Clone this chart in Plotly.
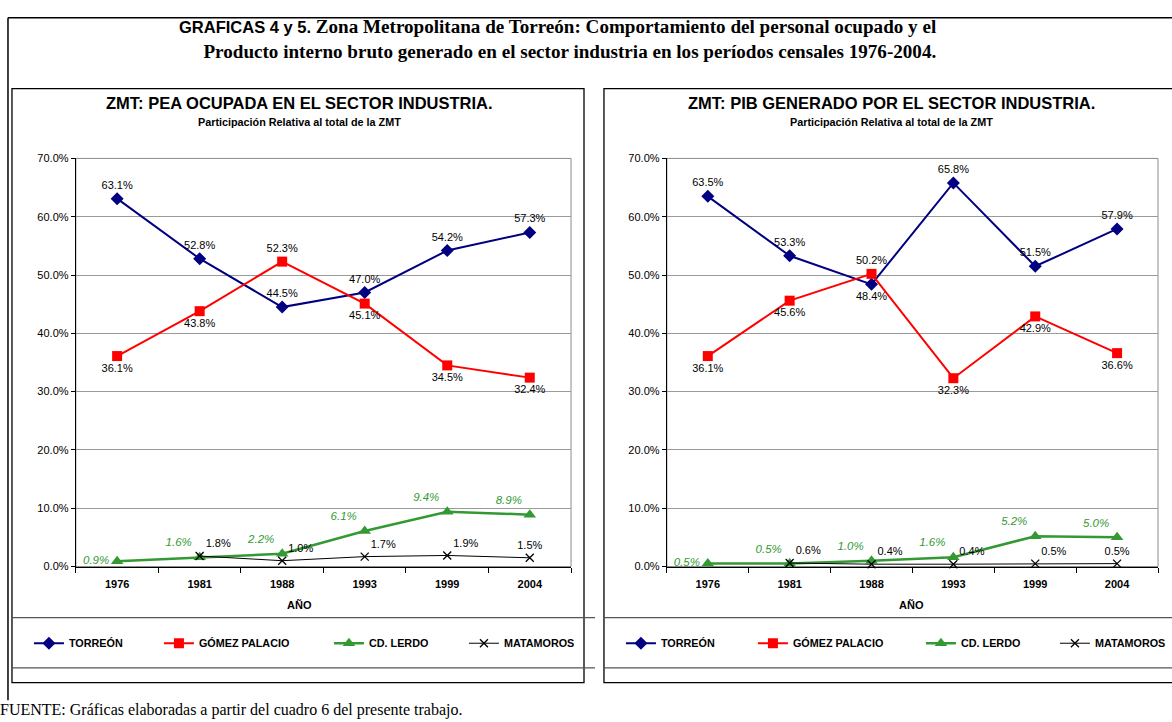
import plotly.graph_objects as go

years = ["1976", "1981", "1988", "1993", "1999", "2004"]

# Gráfica 4: PEA ocupada en el sector industria (% del total ZMT)
pea_torreon = [63.1, 52.8, 44.5, 47.0, 54.2, 57.3]
pea_gomez = [36.1, 43.8, 52.3, 45.1, 34.5, 32.4]
pea_lerdo = [0.9, 1.6, 2.2, 6.1, 9.4, 8.9]
pea_matamoros = [None, 1.8, 1.0, 1.7, 1.9, 1.5]

# Gráfica 5: PIB generado por el sector industria (% del total ZMT)
pib_torreon = [63.5, 53.3, 48.4, 65.8, 51.5, 57.9]
pib_gomez = [36.1, 45.6, 50.2, 32.3, 42.9, 36.6]
pib_lerdo = [0.5, 0.5, 1.0, 1.6, 5.2, 5.0]
pib_matamoros = [None, 0.6, 0.4, 0.4, 0.5, 0.5]

series_names = ["TORREÓN", "GÓMEZ PALACIO", "CD. LERDO", "MATAMOROS"]
y_ticks = [0, 10, 20, 30, 40, 50, 60, 70]

W, H = 1172, 722
def px(x):
    return x / W
def py(y):
    return 1 - y / H

NAVY = "#000080"
RED = "#FF0000"
GREEN = "#339933"
BLACK = "#000000"
SANS = "Liberation Sans, Arial, sans-serif"
SERIF = "Liberation Serif, Times New Roman, serif"

def lbl(vals):
    return [None if v is None else f"{v:.1f}%" for v in vals]

fig = go.Figure()

panels = [
    dict(xa="x", ya="y", legend="legend",
         data=[pea_torreon, pea_gomez, pea_lerdo, pea_matamoros],
         pos=[
             ["top center"] * 6,
             ["bottom center", "bottom center", "top center", "bottom center", "bottom center", "bottom center"],
             ["middle left", "top left", "top left", "top left", "top left", "top left"],
             ["top center", "top right", "top right", "top right", "top right", "top center"],
         ],
         lw=[85, 125, 90, 74]),
    dict(xa="x2", ya="y2", legend="legend2",
         data=[pib_torreon, pib_gomez, pib_lerdo, pib_matamoros],
         pos=[
             ["top center", "top center", "bottom center", "top center", "top center", "top center"],
             ["bottom center", "bottom center", "top center", "bottom center", "bottom center", "bottom center"],
             ["middle left", "top left", "top left", "top left", "top left", "top left"],
             ["top center", "top right", "top right", "top right", "top right", "top center"],
         ],
         lw=[87, 123, 89, 72]),
]

styles = [
    dict(color=NAVY, symbol="diamond", size=10, width=2, tcolor=BLACK, italic=False),
    dict(color=RED, symbol="square", size=10, width=2, tcolor=BLACK, italic=False),
    dict(color=GREEN, symbol="triangle-up", size=11, width=2.5, tcolor=GREEN, italic=True),
    dict(color=BLACK, symbol="x-thin-open", size=8, width=1, tcolor=BLACK, italic=False),
]

for p in panels:
    for i, vals in enumerate(p["data"]):
        s = styles[i]
        fig.add_trace(go.Scatter(
            x=years, y=vals, name=series_names[i],
            mode="lines+markers+text",
            text=lbl(vals), textposition=p["pos"][i],
            textfont=dict(family=SANS, size=11.5 if s["italic"] else 11, color=s["tcolor"],
                          style="italic" if s["italic"] else "normal"),
            line=dict(color=s["color"], width=s["width"]),
            marker=dict(color=s["color"], symbol=s["symbol"], size=s["size"],
                        line=dict(color=s["color"], width=1.3 if i == 3 else 0)),
            xaxis=p["xa"], yaxis=p["ya"], legend=p["legend"],
            legendwidth=p["lw"][i], cliponaxis=False,
        ))

ydom = [py(570), py(155)]
axis_common_y = dict(range=[0, 70], tickvals=y_ticks, ticktext=[f"{v:.1f}%" for v in y_ticks],
                     showgrid=True, gridcolor="#9a9a9a", gridwidth=1,
                     showline=True, linecolor=BLACK, linewidth=1.2,
                     ticks="outside", ticklen=4, tickcolor=BLACK,
                     tickfont=dict(family=SANS, size=11, color=BLACK), zeroline=False,
                     fixedrange=True)
axis_common_x = dict(type="category", range=[-0.5, 5.5], showgrid=False,
                     showline=True, linecolor=BLACK, linewidth=1.2,
                     ticks="outside", ticklen=5, tickcolor=BLACK, tickson="boundaries",
                     tickfont=dict(family=SANS, size=11, color=BLACK, weight="bold"),
                     ticklabelstandoff=7, fixedrange=True)

legend_common = dict(orientation="h", xanchor="left", y=py(648), yanchor="middle",
                     font=dict(family=SANS, size=10.8, color=BLACK, weight="bold"),
                     bgcolor="rgba(0,0,0,0)", borderwidth=0, itemclick=False, itemdoubleclick=False)

fig.update_layout(
    width=W, height=H,
    margin=dict(l=0, r=0, t=0, b=0),
    paper_bgcolor="white", plot_bgcolor="white",
    xaxis=dict(domain=[px(76), px(572)], anchor="y", **axis_common_x),
    yaxis=dict(domain=ydom, anchor="x", **axis_common_y),
    xaxis2=dict(domain=[px(668), px(1160)], anchor="y2", **axis_common_x),
    yaxis2=dict(domain=ydom, anchor="x2", **axis_common_y),
    legend=dict(x=px(29), **legend_common),
    legend2=dict(x=px(622), **legend_common),
    showlegend=True,
)

shapes = []
# outer frame
shapes.append(dict(type="line", xref="paper", yref="paper", x0=px(8), x1=px(1180), y0=py(12), y1=py(12),
                   line=dict(color=BLACK, width=1.5)))
shapes.append(dict(type="line", xref="paper", yref="paper", x0=px(8), x1=px(8), y0=py(12), y1=py(706),
                   line=dict(color=BLACK, width=1.5)))
# panel boxes
shapes.append(dict(type="rect", xref="paper", yref="paper", x0=px(12), x1=px(585), y0=py(688), y1=py(84),
                   line=dict(color=BLACK, width=1.3)))
shapes.append(dict(type="rect", xref="paper", yref="paper", x0=px(605), x1=px(1185), y0=py(688), y1=py(84),
                   line=dict(color=BLACK, width=1.3)))
# legend separators
for yy in (622, 673):
    shapes.append(dict(type="line", xref="paper", yref="paper", x0=px(12), x1=px(596), y0=py(yy), y1=py(yy),
                       line=dict(color="#555555", width=1.2)))
    shapes.append(dict(type="line", xref="paper", yref="paper", x0=px(605), x1=px(1180), y0=py(yy), y1=py(yy),
                       line=dict(color="#555555", width=1.2)))
# plot area borders (gray)
for xa, ya in (("x", "y"), ("x2", "y2")):
    shapes.append(dict(type="rect", xref=f"{xa} domain", yref=f"{ya} domain", x0=0, x1=1, y0=0, y1=1,
                       line=dict(color="#8c8c8c", width=1), layer="below"))
fig.update_layout(shapes=shapes)

ann = []
ann.append(dict(
    text=('<span style="font-family:Liberation Sans, Arial;font-size:16.5px">GRAFICAS 4 y 5.</span> '
          'Zona Metropolitana de Torreón: Comportamiento del personal ocupado y el<br>'
          'Producto interno bruto generado en el sector industria en los períodos censales 1976-2004.'),
    xref="paper", yref="paper", x=px(940), y=py(34), xanchor="right", yanchor="middle", align="right",
    showarrow=False, font=dict(family=SERIF, size=19.1, color=BLACK, weight="bold")))
for cx, title in ((300, "ZMT: PEA OCUPADA EN EL SECTOR INDUSTRIA."), (893, "ZMT: PIB GENERADO POR EL SECTOR INDUSTRIA.")):
    ann.append(dict(text=title, xref="paper", yref="paper", x=px(cx), y=py(99), xanchor="center", yanchor="middle",
                    showarrow=False, font=dict(family=SANS, size=16.5, color=BLACK, weight="bold")))
    ann.append(dict(text="Participación Relativa al total de la ZMT", xref="paper", yref="paper", x=px(cx), y=py(118),
                    xanchor="center", yanchor="middle", showarrow=False,
                    font=dict(family=SANS, size=10.8, color=BLACK, weight="bold")))
for cx in (300, 913):
    ann.append(dict(text="AÑO", xref="paper", yref="paper", x=px(cx), y=py(609), xanchor="center", yanchor="middle",
                    showarrow=False, font=dict(family=SANS, size=11, color=BLACK, weight="bold")))
ann.append(dict(text="FUENTE: Gráficas elaboradas a partir del cuadro 6 del presente trabajo.",
                xref="paper", yref="paper", x=px(-2), y=py(716), xanchor="left", yanchor="middle",
                showarrow=False, font=dict(family=SERIF, size=16, color=BLACK)))
fig.update_layout(annotations=ann)

fig.write_html("out.html")
